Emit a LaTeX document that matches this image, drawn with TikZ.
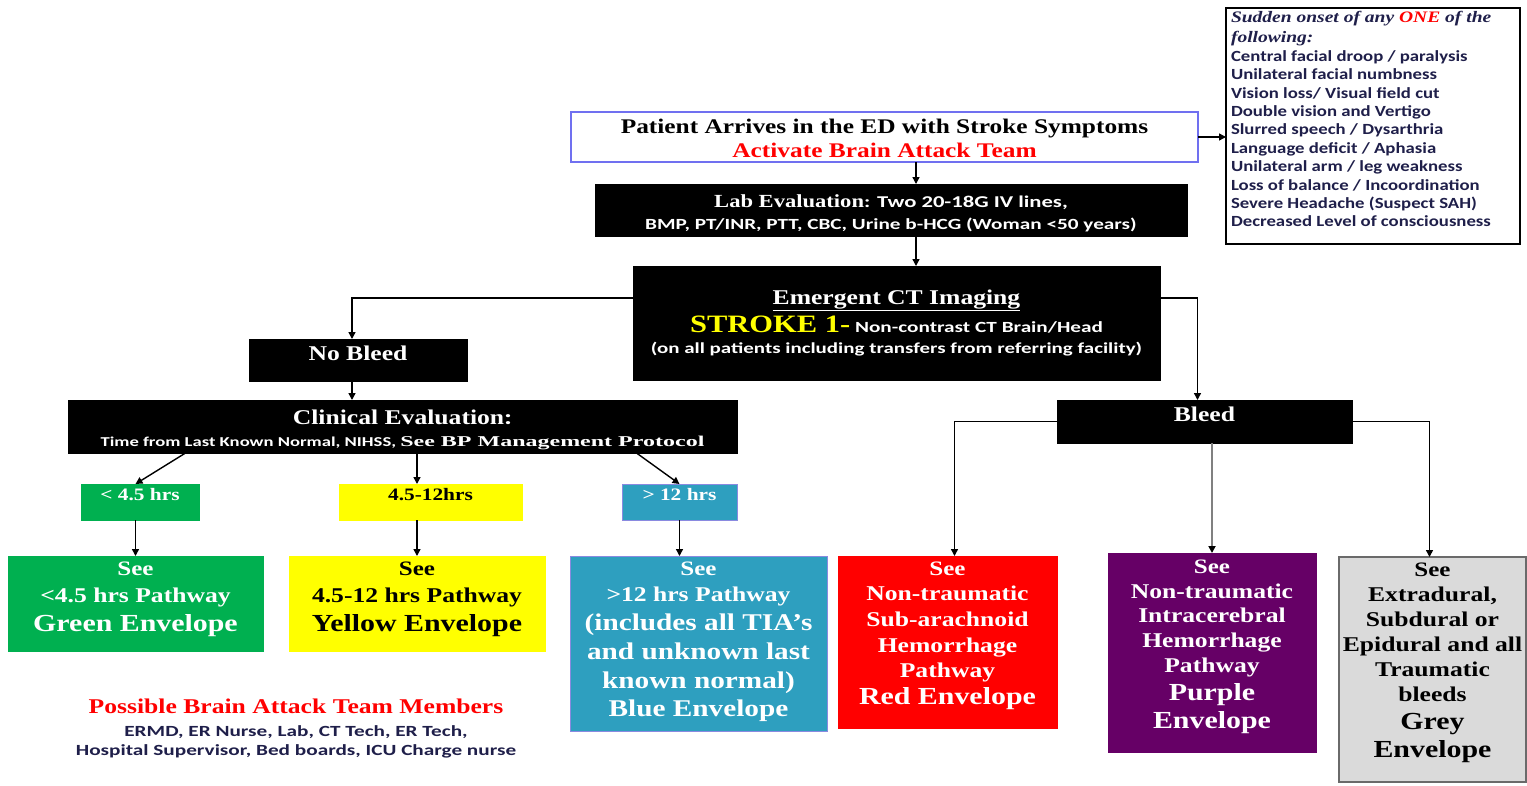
\documentclass[tikz,border=0pt]{standalone}
\usepackage{fontspec}
\setmainfont{Liberation Serif}[FakeStretch=1.22]
\newfontfamily\srs{Liberation Serif}[FakeStretch=1.6]
\newfontfamily\cbr{Carlito}[FakeStretch=1.37]
\newfontfamily\cbs{Carlito}[FakeStretch=1.21]
\usetikzlibrary{arrows.meta}
\definecolor{gEnv}{HTML}{00B050}
\definecolor{yEnv}{HTML}{FFFF00}
\definecolor{bEnv}{HTML}{2E9FBF}
\definecolor{bBord}{HTML}{8A8AE0}
\definecolor{rEnv}{HTML}{FF0000}
\definecolor{pEnv}{HTML}{660066}
\definecolor{grEnv}{HTML}{DADADA}
\definecolor{grBord}{HTML}{6A6A6A}
\definecolor{patBord}{HTML}{7070F0}
\definecolor{navy}{HTML}{1F1F4A}
\newcommand\fs[2]{\fontsize{#1}{#2}\selectfont}
\newcommand\tb[4]{\begin{minipage}[c][#2][t]{#1}\centering\vspace*{#3}#4\end{minipage}}
\tikzset{
  bx/.style={inner sep=0pt, outer sep=0pt, anchor=north west},
  blk/.style={bx, fill=black, draw=black, text=white},
  arr/.style={line width=1.4pt, -{Triangle[length=7pt,width=7pt,color=black]}},
}
\begin{document}
\begin{tikzpicture}[x=1pt,y=-1pt]
\fill[white] (0,0) rectangle (1527,785);
\useasboundingbox (0,0) rectangle (1527,785);

% symptoms
\node[bx, draw=black, line width=1.3pt] (sym) at (1226,8) {\begin{minipage}[c][236pt][t]{294pt}\vspace*{3pt}\leftskip=5pt\parindent=0pt
{\fs{16}{20}\bfseries\itshape\color{navy}Sudden onset of any {\color{red}ONE} of the\par following:\par}
{\cbs\bfseries\color{navy}\fs{15.5}{19}Central facial droop / paralysis\par}
{\cbs\bfseries\color{navy}\fs{15.5}{18.4}Unilateral facial numbness\par
Vision loss/ Visual field cut\par
Double vision and Vertigo\par
Slurred speech / Dysarthria\par
Language deficit / Aphasia\par
Unilateral arm / leg weakness\par
Loss of balance / Incoordination\par
Severe Headache (Suspect SAH)\par
Decreased Level of consciousness\par}
\end{minipage}};

\node[bx, fill=white, draw=patBord, line width=1.2pt] (pat) at (571,112) {\tb{627pt}{50pt}{7pt}{\fs{20.8}{24}\bfseries Patient Arrives in the ED with Stroke Symptoms\par\color{red}Activate Brain Attack Team\par}};

\node[blk] (lab) at (595,184) {\tb{592pt}{52pt}{11pt}{\fs{18.5}{21}\bfseries Lab Evaluation{\cbr\fs{16.5}{21}: Two 20-18G IV lines,}\par{\cbr\fs{15.5}{21.5}\bfseries BMP, PT/INR, PTT, CBC, Urine b-HCG (Woman <50 years)\par}}};

\node[blk] (ct) at (633,266) {\tb{527pt}{114pt}{24pt}{\bfseries\fs{21}{24}\underline{Emergent CT Imaging}\par
{\fs{25}{28}{\color{yEnv}STROKE 1-}{\cbr\fs{15.5}{28} Non-contrast CT Brain/Head}\par}
{\cbr\fs{15.3}{20.5}(on all patients including transfers from referring facility)\par}}};

\node[blk] (nob) at (249,339) {\tb{218pt}{42pt}{7pt}{\fs{21}{24}\bfseries No Bleed\par}};
\node[blk] (bleed) at (1057,400) {\tb{295pt}{43pt}{7pt}{\fs{21}{24}\bfseries Bleed\par}};

\node[blk] (clin) at (68,400) {\tb{669pt}{53pt}{10pt}{\fs{21}{24}\bfseries Clinical Evaluation{\cbr:}\par
{\fs{15}{22}{\cbr\fs{13.6}{22} Time from Last Known Normal, NIHSS, }{\srs See BP Management Protocol}\par}}};

\node[bx, fill=gEnv, draw=gEnv] (gt) at (81,484) {\tb{118pt}{36pt}{4pt}{\fs{17.5}{18}\bfseries\color{white}< 4.5 hrs\par}};
\node[bx, fill=yEnv, draw=yEnv] (yt) at (339,484) {\tb{183pt}{36pt}{4pt}{\fs{17.5}{18}\bfseries 4.5-12hrs\par}};
\node[bx, fill=bEnv, draw=bBord, line width=1pt] (bt) at (622,484) {\tb{115pt}{36pt}{4pt}{\fs{17.5}{18}\bfseries\color{white}> 12 hrs\par}};

\node[bx, fill=gEnv, draw=gEnv] (genv) at (8,556) {\tb{255pt}{95pt}{6pt}{\bfseries\color{white}{\fs{20.5}{22}See\par}{\fs{21}{26.5}<4.5 hrs Pathway\par}{\fs{24.5}{29.5}Green Envelope\par}}};
\node[bx, fill=yEnv, draw=yEnv] (yenv) at (289,556) {\tb{256pt}{95pt}{6pt}{\bfseries{\fs{20.5}{22}See\par}{\fs{21}{26.5}4.5-12 hrs Pathway\par}{\fs{24.5}{29.5}Yellow Envelope\par}}};
\node[bx, fill=bEnv, draw=bBord, line width=1pt] (benv) at (570,556) {\tb{257pt}{175pt}{6pt}{\bfseries\color{white}{\fs{20.5}{22}See\par}{\fs{21}{25.5}>12 hrs Pathway\par}{\fs{24}{29}(includes all TIA’s\par and unknown last\par known normal)\par}{\fs{24}{28.5}Blue Envelope\par}}};
\node[bx, fill=rEnv, draw=rEnv] (renv) at (838,556) {\tb{219pt}{172pt}{6pt}{\bfseries\color{white}{\fs{20.5}{22}See\par}{\fs{21}{25}Non-traumatic\par}{\fs{21}{26}Sub-arachnoid\par Hemorrhage\par}{\fs{21}{25}Pathway\par}{\fs{24.5}{27}Red Envelope\par}}};
\node[bx, fill=pEnv, draw=pEnv] (penv) at (1108,553) {\tb{208pt}{199pt}{7pt}{\bfseries\color{white}{\fs{20.5}{22}See\par}{\fs{21}{24.5}Non-traumatic\par Intracerebral\par Hemorrhage\par}{\fs{21}{25.5}Pathway\par}{\fs{24.5}{28}Purple\par Envelope\par}}};
\node[bx, fill=grEnv, draw=grBord, line width=1.3pt] (grenv) at (1339,557) {\tb{187pt}{225pt}{6pt}{\bfseries{\fs{20.5}{22}See\par}{\fs{21}{25}Extradural,\par Subdural or\par Epidural and all\par Traumatic\par bleeds\par}{\fs{24.5}{28}Grey\par Envelope\par}}};

\node[bx] (team) at (60,690) {\tb{472pt}{75pt}{9pt}{{\fs{21}{22}\bfseries\color{red}Possible Brain Attack Team Members\par}
{\cbr\bfseries\color{navy}\fs{15.5}{22.5}ERMD, ER Nurse, Lab, CT Tech, ER Tech,\par}
{\cbr\bfseries\color{navy}\fs{15.5}{19.5}Hospital Supervisor, Bed boards, ICU Charge nurse\par}}};

% connectors
\draw[arr] (pat.east) -- (pat.east -| sym.west);
\draw[arr] (pat.south -| 916,0) -- (lab.north -| 916,0);
\draw[arr] (lab.south -| 916,0) -- (ct.north -| 916,0);
\draw[arr] ([yshift=25pt]ct.west) -| ([xshift=-6pt]nob.north);
\draw[arr] ([yshift=25pt]ct.east) -| ([xshift=-7pt]bleed.north);
\draw[arr] ([xshift=-6pt]nob.south) -- ([xshift=-6pt]nob.south |- clin.north);
\draw[arr] ([xshift=-217pt]clin.south) -- (gt.north -| genv.north);
\draw[arr] (clin.south -| yenv.north) -- (yenv.north |- yt.north);
\draw[arr] ([xshift=234pt]clin.south) -- (bt.north);
\draw[arr] (gt.south -| genv.north) -- (genv.north);
\draw[arr] (yt.south -| yenv.north) -- (yenv.north);
\draw[arr] (bt.south) -- (bt.south |- benv.north);
\draw[arr] (bleed.west) -| ([xshift=7pt]renv.north);
\draw[arr, draw=gray, line width=2.5pt] (bleed.south -| penv.north) -- (penv.north);
\draw[arr] (bleed.east) -| ([xshift=-3pt]grenv.north);
\end{tikzpicture}
\end{document}
